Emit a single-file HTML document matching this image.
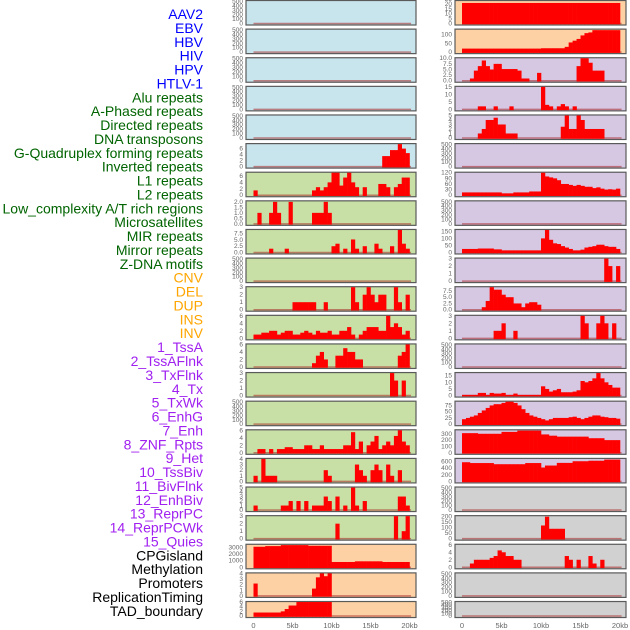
<!DOCTYPE html>
<html><head><meta charset="utf-8"><style>
body{margin:0;background:#fff;width:630px;height:630px;overflow:hidden}
svg{display:block}
</style></head><body>
<svg id="chart" width="630" height="630" xmlns="http://www.w3.org/2000/svg" font-family="Liberation Sans, sans-serif"></svg>
<script>
// ---- data: track labels and per-panel bin values (0.5kb bins, 0-20kb) ----
const labels = ["AAV2","EBV","HBV","HIV","HPV","HTLV-1","Alu repeats","A-Phased repeats","Directed repeats","DNA transposons","G-Quadruplex forming repeats","Inverted repeats","L1 repeats","L2 repeats","Low_complexity A/T rich regions","Microsatellites","MIR repeats","Mirror repeats","Z-DNA motifs","CNV","DEL","DUP","INS","INV","1_TssA","2_TssAFlnk","3_TxFlnk","4_Tx","5_TxWk","6_EnhG","7_Enh","8_ZNF_Rpts","9_Het","10_TssBiv","11_BivFlnk","12_EnhBiv","13_ReprPC","14_ReprPCWk","15_Quies","CPGisland","Methylation","Promoters","ReplicationTiming","TAD_boundary"];
const labelColors = ["#0000ff","#006400","#ffa500","#a020f0","#000000"];
const labelGroups = [6,13,5,15,5];
const xTicks = [0,5,10,15,20];
const xTickLabels = ["0","5kb","10kb","15kb","20kb"];

function sp(o){const a=new Array(40).fill(0);for(const k in o){a[+k]=o[k];}return a;}
function fill(ranges){const a=new Array(40).fill(0);ranges.forEach(r=>{for(let i=r[0];i<=r[1];i++)a[i]=r[2];});return a;}

const L5 = sp({33:3.5,34:3.5,35:5.5,36:5.5,37:7.5,38:6,39:4.5});
const L6 = sp({0:1.5,15:1.5,16:2.5,17:1.5,18:2.5,19:4,20:7,21:7,22:3,23:5.5,24:7,25:4,26:2.5,28:2.5,32:3.5,33:3.5,34:2.5,36:2.5,37:3.5,38:5.5,39:5.5});
const L7 = sp({1:1,4:1,5:2,6:1,9:2,15:1,16:1,17:1,18:2,19:1});
const L8 = sp({4:1.5,8:1.5,20:2.5,21:3.5,23:1.5,25:5.2,26:1.5,28:2.5,31:3.5,32:1.5,35:2.5,37:9,38:3.5,39:1.5});
const L10 = sp({10:1,11:1,12:1,13:1,14:1,15:1,18:1,25:3,26:1,28:2,29:3,30:2,31:1,32:2,33:2,36:3,37:1,39:2});
const L11 = [1,1,1.5,1.5,2,2,1,1.5,2,2,1,1,1.5,2,1.5,1,2,1.5,1.5,2,1,1,2,2,3,1,0,1,2,3,3,3,2,2,6,3,4,3,1,2];
const L12 = sp({15:1,16:3,17:4,18:2,21:3,22:3,23:5,24:4,25:4,26:2,27:2,37:3,38:4,39:6});
const L13 = sp({35:3,36:2,38:2});
const L15 = [0,1,1,0,1,0,1,1,1.5,1.5,1,1,1,2,2,1,1,2,1,1,1,1,1,2,2,5.5,1,3,0,2,3,4.5,1,2,3,2,4.5,6,3,2];
const L16 = sp({0:1,2:4,3:1,4:1,5:1,18:2,19:1,26:3,27:2,28:1,30:2,31:3,32:2,34:3,35:1,37:2});
const L17 = sp({0:1,7:1,8:1,9:2,11:2,13:2,15:1,16:1,17:1,18:3,19:2,21:3,23:1,25:5,26:1,28:2,37:3,38:3,39:1});
const L18 = sp({21:2,36:3,38:1,39:3});
const L19 = fill([[0,2,3100],[3,6,3200],[7,13,3350],[14,19,3250],[20,25,800],[26,32,900],[33,39,800]]);
const L20 = sp({0:2.2,15:1.3,16:3.3,17:4,18:3.5,19:4});
const L21 = fill([[0,6,1.5],[7,7,2],[8,8,3],[9,10,4.5],[11,19,6]]);

const R0 = fill([[0,39,21]]);
const R1 = fill([[0,19,20],[20,25,22],[26,26,30],[27,27,55],[28,28,65],[29,29,75],[30,30,95],[31,31,108],[32,32,112],[33,39,125]]);
const R2 = sp({2:1,3:4.5,4:6.5,5:9,6:6.5,7:5,8:7.5,9:7.5,10:5.2,11:5.2,12:5.2,13:5.2,14:4.5,15:1,16:1,19:3.5,29:6.5,30:10,31:10,32:8,33:4.5,34:4.5,35:4.5});
const R3 = sp({4:2,5:2,8:2,12:2,20:15,21:3,22:2,24:2,25:3.5,26:2,28:2});
const R4 = sp({4:1,5:2,6:4,7:4,8:4.5,9:3,10:3,11:1,12:1,13:1,25:2.5,26:5,27:2,28:2,29:5,30:4,31:2,32:2,33:2,34:2,35:2});
const R6 = [15,15,15,15,15,15,15,15,15,15,10,10,10,15,15,15,15,20,20,20,120,100,95,90,80,60,60,55,50,55,50,45,45,38,42,35,30,32,30,35];
const R8 = [25,25,25,25,28,28,28,28,22,22,15,15,15,15,15,15,15,15,15,15,100,160,90,65,60,45,35,25,15,15,20,35,40,45,55,55,45,40,40,25];
const R9 = sp({36:3,37:2,39:2});
const R10 = sp({5:1,6:3.5,7:9,8:8,9:8,10:6,11:5,12:5,13:2.5,14:2.5,15:1,16:2.5,17:3,18:3,19:2});
const R11 = sp({8:1,9:1,10:2,13:1,30:3,31:2,34:2,35:3,36:2,38:2});
const R13 = [0.5,0.5,0.5,0.5,2,2,0.5,2,1.5,1.5,2,0.5,0.5,1.5,0.5,0.5,0.5,0.5,0.5,0.5,7,5,3,4,5,2.5,2.5,2.5,3,4,11,10,11,13,17,13,10,8,6,6];
const R14 = [20,25,30,35,45,55,65,75,80,80,85,90,90,85,75,60,45,35,30,25,20,15,20,25,25,25,25,28,30,25,20,25,30,35,35,30,28,25,25,22];
const R15 = fill([[0,3,310],[4,9,300],[10,13,330],[14,19,350],[20,21,290],[22,23,270],[24,31,255],[32,35,230],[36,39,200]]);
const R16 = fill([[0,1,580],[2,7,555],[8,15,520],[16,19,555],[20,20,420],[21,23,480],[24,27,560],[28,31,610],[32,35,625],[36,39,660]]);
const R18 = sp({20:120,21:200,22:90,23:90,24:90,25:90});
const R19 = sp({2:1,3:2,4:2,5:2,6:2,7:2.5,8:3,9:4.5,10:4,11:3,12:3,13:2,14:2,26:3,27:2,29:2,32:3,33:1,35:2});

const E=null, T500=[0,100,200,300,400,500];
const BLUE="#c8e4ec", GREEN="#c8e0a5", ORANGE="#fdd1a3", PURPLE="#d6c8e3", GRAY="#d1d1d1";
const leftPanels=[
 [E,T500,510,0,BLUE],[E,T500,510,0,BLUE],[E,T500,510,0,BLUE],[E,T500,510,0,BLUE],[E,T500,510,0,BLUE],
 [L5,[0,2,4,6],7.5,0,BLUE],[L6,[0,2,4,6],7,0,GREEN],[L7,[0,0.5,1,1.5,2],2.05,1,GREEN],[L8,[0,2.5,5,7.5],9,1,GREEN],
 [E,T500,510,0,GREEN],[L10,[0,1,2,3],3,0,GREEN],[L11,[0,2,4,6],6,0,GREEN],[L12,[0,2,4,6],6,0,GREEN],[L13,[0,1,2,3],3,0,GREEN],
 [E,T500,510,0,GREEN],[L15,[0,2,4,6],6,0,GREEN],[L16,[0,1,2,3,4],4,0,GREEN],[L17,[0,1,2,3,4,5],5,0,GREEN],[L18,[0,1,2,3],3,0,GREEN],
 [L19,[0,1000,2000,3000],3400,0,ORANGE],[L20,[0,1,2,3,4],4,0,ORANGE],[L21,[0,2,4,6],6,0,ORANGE]];
const rightPanels=[
 [R0,[0,5,10,15,20,25],23,0,ORANGE],[R1,[0,50,100],128,0,ORANGE],[R2,[0,2.5,5,7.5,10],10,1,PURPLE],[R3,[0,5,10,15],15,0,PURPLE],
 [R4,[0,1,2,3,4,5],5,0,PURPLE],[E,T500,510,0,PURPLE],[R6,[0,30,60,90,120],120,0,PURPLE],[E,T500,510,0,PURPLE],
 [R8,[0,50,100,150],160,0,PURPLE],[R9,[0,1,2,3],3,0,PURPLE],[R10,[0,2.5,5,7.5],9,1,PURPLE],[R11,[0,1,2,3],3,0,PURPLE],
 [E,T500,510,0,PURPLE],[R13,[0,5,10,15],17,0,PURPLE],[R14,[0,25,50,75],90,0,PURPLE],[R15,[0,100,200,300],355,0,PURPLE],
 [R16,[0,200,400,600],680,0,PURPLE],[E,T500,510,0,GRAY],[R18,[0,50,100,150,200],205,0,GRAY],[R19,[0,2,4,6],6,0,GRAY],
 [E,T500,510,0,GRAY],[E,T500,510,0,GRAY]];

const svg=document.getElementById('chart');
const NS="http://www.w3.org/2000/svg";
function mk(tag,attrs,parent){const e=document.createElementNS(NS,tag);for(const k in attrs)e.setAttribute(k,attrs[k]);(parent||svg).appendChild(e);return e;}

// labels
let li=0;
labelGroups.forEach((n,g)=>{for(let j=0;j<n;j++){
  const t=mk('text',{x:203,y:14+li*13.88+5,'text-anchor':'end','font-size':'14',fill:labelColors[g]});
  
  
  t.textContent=labels[li];li++;}});

function drawColumn(panels,x0,x1,z,kbpx,side){
  const xs=kb=>z+kb*kbpx;
  panels.forEach((p,i)=>{
    const [data,ticks,ymax,dec,bg]=p;
    const top=0.5+i*28.62, h=(i===21)?16:24.5, bot=top+h;
    const g=mk('g',{});
    
    
    mk('rect',{x:x0,y:top,width:x1-x0,height:h,fill:bg,stroke:'#5a5a5a','stroke-width':1.2},g);
    const y0=bot-1.5, ys=v=>y0-(v/ymax)*(h-2);
    mk('line',{x1:xs(0),x2:xs(20.2),y1:y0,y2:y0,stroke:'rgba(170,40,40,0.55)','stroke-width':1.5},g);
    if(data){data.forEach((v,k)=>{if(v>0){
      const r=mk('rect',{x:xs(k*0.5),y:ys(v),width:kbpx*0.5+0.3,height:y0-ys(v)+0.8,fill:'#ff0000'},g);
      
      }});}
    ticks.forEach(t=>{
      const tx=mk('text',{x:x0-3,y:ys(t)+2,'text-anchor':'end','font-size':'6.5',fill:'#666'},g);
      
      
      tx.textContent=dec?t.toFixed(1):String(t);});
  });
  xTicks.forEach((t,k)=>{
    const tx=mk('text',{x:xs(t),y:628,'text-anchor':'middle','font-size':'7.5',fill:'#666'});
    
    
    tx.textContent=xTickLabels[k];});
}
drawColumn(leftPanels,246,416,253.5,7.8,'left');
drawColumn(rightPanels,455,626,462,7.9,'right');
</script>
</body></html>
